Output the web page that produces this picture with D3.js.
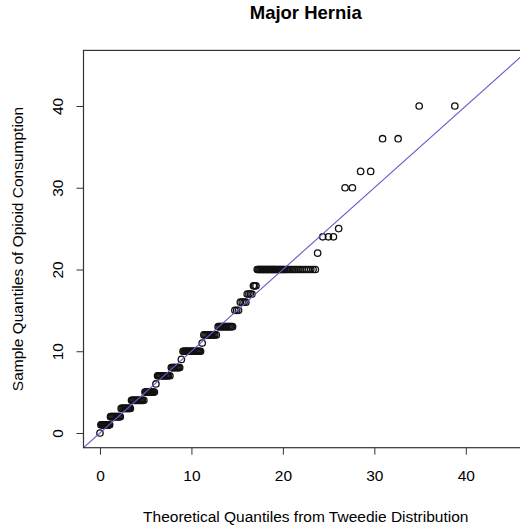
<!DOCTYPE html>
<html>
<head>
<meta charset="utf-8">
<script src="https://cdn.jsdelivr.net/npm/d3@7"></script>
<style>
  body { margin: 0; background: #fff; }
  svg text { font-family: "Liberation Sans", Arial, sans-serif; fill: #000; }
</style>
</head>
<body>
<div id="chart"></div>
<script>
// Q-Q plot: sample quantiles (opioid consumption) vs theoretical Tweedie quantiles
var theoQ = [
  0.0,
  0.1, 0.2, 0.3, 0.4, 0.5, 0.6, 0.7, 0.8, 0.9, 1.0, 1.06,
  1.15, 1.25, 1.35, 1.45, 1.55, 1.65, 1.75, 1.85, 1.95, 2.05, 2.15, 2.22,
  2.32, 2.42, 2.52, 2.62, 2.72, 2.82, 2.92, 3.02, 3.12, 3.22, 3.32,
  3.45, 3.55, 3.65, 3.75, 3.85, 3.95, 4.05, 4.15, 4.25, 4.35, 4.45, 4.55, 4.65, 4.8,
  4.92, 5.02, 5.12, 5.22, 5.32, 5.42, 5.52, 5.62, 5.72, 5.82, 5.95,
  6.12,
  6.3, 6.4, 6.5, 6.6, 6.7, 6.8, 6.9, 7.0, 7.1, 7.2, 7.3, 7.4, 7.5, 7.65,
  7.8, 7.9, 8.0, 8.1, 8.2, 8.3, 8.4, 8.5, 8.6, 8.72,
  8.9,
  9.08, 9.18, 9.28, 9.38, 9.48, 9.58, 9.68, 9.78, 9.88, 9.98, 10.08, 10.18,
  10.28, 10.38, 10.48, 10.58, 10.68, 10.78, 10.88, 11.0,
  11.18,
  11.36, 11.48, 11.6, 11.72, 11.84, 11.96, 12.08, 12.2, 12.32, 12.44, 12.56, 12.72,
  12.92, 13.04, 13.16, 13.28, 13.4, 13.52, 13.64, 13.76, 13.88, 14.0, 14.12,
  14.24, 14.36, 14.5,
  14.75, 14.95, 15.15,
  15.35, 15.55, 15.75, 15.95,
  16.1, 16.28, 16.46, 16.62,
  16.78, 16.92, 17.06,
  17.2, 17.3, 17.4, 17.5, 17.6, 17.7, 17.8, 17.9, 18.0, 18.1, 18.2, 18.3,
  18.4, 18.5, 18.6, 18.7, 18.8, 18.9, 19.0, 19.1, 19.2, 19.32, 19.44, 19.56,
  19.68, 19.8, 19.92, 20.05, 20.2, 20.35, 20.5, 20.68, 20.86, 21.05, 21.25,
  21.45, 21.65, 21.87, 22.1, 22.33, 22.57, 22.8, 23.05, 23.3, 23.55,
  23.8,
  24.36, 24.98, 25.53,
  26.1,
  26.8, 27.6,
  28.5, 29.6,
  30.9, 32.6,
  34.9, 38.8
];

var sampleQ = [
  0,
  1, 1, 1, 1, 1, 1, 1, 1, 1, 1, 1,
  2, 2, 2, 2, 2, 2, 2, 2, 2, 2, 2, 2,
  3, 3, 3, 3, 3, 3, 3, 3, 3, 3, 3,
  4, 4, 4, 4, 4, 4, 4, 4, 4, 4, 4, 4, 4, 4,
  5, 5, 5, 5, 5, 5, 5, 5, 5, 5, 5,
  6,
  7, 7, 7, 7, 7, 7, 7, 7, 7, 7, 7, 7, 7, 7,
  8, 8, 8, 8, 8, 8, 8, 8, 8, 8,
  9,
  10, 10, 10, 10, 10, 10, 10, 10, 10, 10, 10, 10,
  10, 10, 10, 10, 10, 10, 10, 10,
  11,
  12, 12, 12, 12, 12, 12, 12, 12, 12, 12, 12, 12,
  13, 13, 13, 13, 13, 13, 13, 13, 13, 13, 13,
  13, 13, 13,
  15, 15, 15,
  16, 16, 16, 16,
  17, 17, 17, 17,
  18, 18, 18,
  20, 20, 20, 20, 20, 20, 20, 20, 20, 20, 20, 20,
  20, 20, 20, 20, 20, 20, 20, 20, 20, 20, 20, 20,
  20, 20, 20, 20, 20, 20, 20, 20, 20, 20, 20,
  20, 20, 20, 20, 20, 20, 20, 20, 20, 20,
  22,
  24, 24, 24,
  25,
  30, 30,
  32, 32,
  36, 36,
  40, 40
];

var xTicks = [0, 10, 20, 30, 40];
var yTicks = [0, 10, 20, 30, 40];
var refLine = [0, 1]; // intercept, slope

var chartTitle = "Major Hernia",
    xTitle = "Theoretical Quantiles from Tweedie Distribution",
    yTitle = "Sample Quantiles of Opioid Consumption";

var width = 520, height = 529;
var plot = {left: 83.5, right: 528, top: 50.4, bottom: 447.7};

var x = d3.scaleLinear().domain([-1.8, 46.8]).range([plot.left, plot.right]);
var y = d3.scaleLinear().domain([-1.8, 46.8]).range([plot.bottom, plot.top]);

var svg = d3.select("#chart").append("svg")
    .attr("width", width)
    .attr("height", height);

svg.append("rect").attr("width", width).attr("height", height).attr("fill", "#fff");

svg.append("defs").append("clipPath").attr("id", "clip")
  .append("rect")
    .attr("x", plot.left).attr("y", plot.top)
    .attr("width", plot.right - plot.left).attr("height", plot.bottom - plot.top);

//points
var pts = theoQ.map((d, i) => ({x: d, y: sampleQ[i]}));
svg.append("g").selectAll("circle")
    .data(pts)
    .enter().append("circle")
    .attr("cx", (d) => x(d.x))
    .attr("cy", (d) => y(d.y))
    .attr("r", 3.2)
    .attr("fill", "none")
    .attr("stroke", "#111")
    .attr("stroke-width", 1.3);

// reference line
var lx = x.domain();
svg.append("line")
    .attr("clip-path", "url(#clip)")
    .attr("x1", x(lx[0])).attr("y1", y(refLine[0] + refLine[1] * lx[0]))
    .attr("x2", x(lx[1])).attr("y2", y(refLine[0] + refLine[1] * lx[1]))
    .attr("stroke", "#6a5acd")
    .attr("stroke-width", 1.1);

// frame
svg.append("rect")
    .attr("x", plot.left).attr("y", plot.top)
    .attr("width", plot.right - plot.left).attr("height", plot.bottom - plot.top)
    .attr("fill", "none").attr("stroke", "#333").attr("stroke-width", 1.2);

// x axis
var xAxis = svg.append("g").attr("transform", "translate(0," + plot.bottom + ")")
    .call(d3.axisBottom(x).tickValues(xTicks).tickSize(7).tickPadding(15).tickFormat(d3.format("d")));
xAxis.select(".domain").remove();
xAxis.selectAll("line").attr("stroke", "#333");
xAxis.selectAll("text").style("font-size", "15.5px").attr("fill", "#000")
    .style("font-family", "Liberation Sans, Arial, sans-serif");

// y axis, labels rotated like R's default las=0
var yAxis = svg.append("g").attr("transform", "translate(" + plot.left + ",0)")
    .call(d3.axisLeft(y).tickValues(yTicks).tickSize(7).tickFormat(d3.format("d")));
yAxis.select(".domain").remove();
yAxis.selectAll("line").attr("stroke", "#333");
yAxis.selectAll("text")
    .attr("x", null).attr("dy", null)
    .attr("text-anchor", "middle")
    .attr("transform", "translate(-21,0) rotate(-90)")
    .style("font-size", "15.5px").attr("fill", "#000")
    .style("font-family", "Liberation Sans, Arial, sans-serif");

// titles
svg.append("text")
    .attr("x", (plot.left + plot.right) / 2).attr("y", 19)
    .attr("text-anchor", "middle")
    .style("font-size", "18.5px").style("font-weight", "bold")
    .text(chartTitle);

svg.append("text")
    .attr("x", (plot.left + plot.right) / 2).attr("y", 522)
    .attr("text-anchor", "middle")
    .style("font-size", "15.5px")
    .text(xTitle);

svg.append("text")
    .attr("transform", "translate(23," + ((plot.top + plot.bottom) / 2) + ") rotate(-90)")
    .attr("text-anchor", "middle")
    .style("font-size", "15.5px")
    .text(yTitle);
</script>
</body>
</html>
